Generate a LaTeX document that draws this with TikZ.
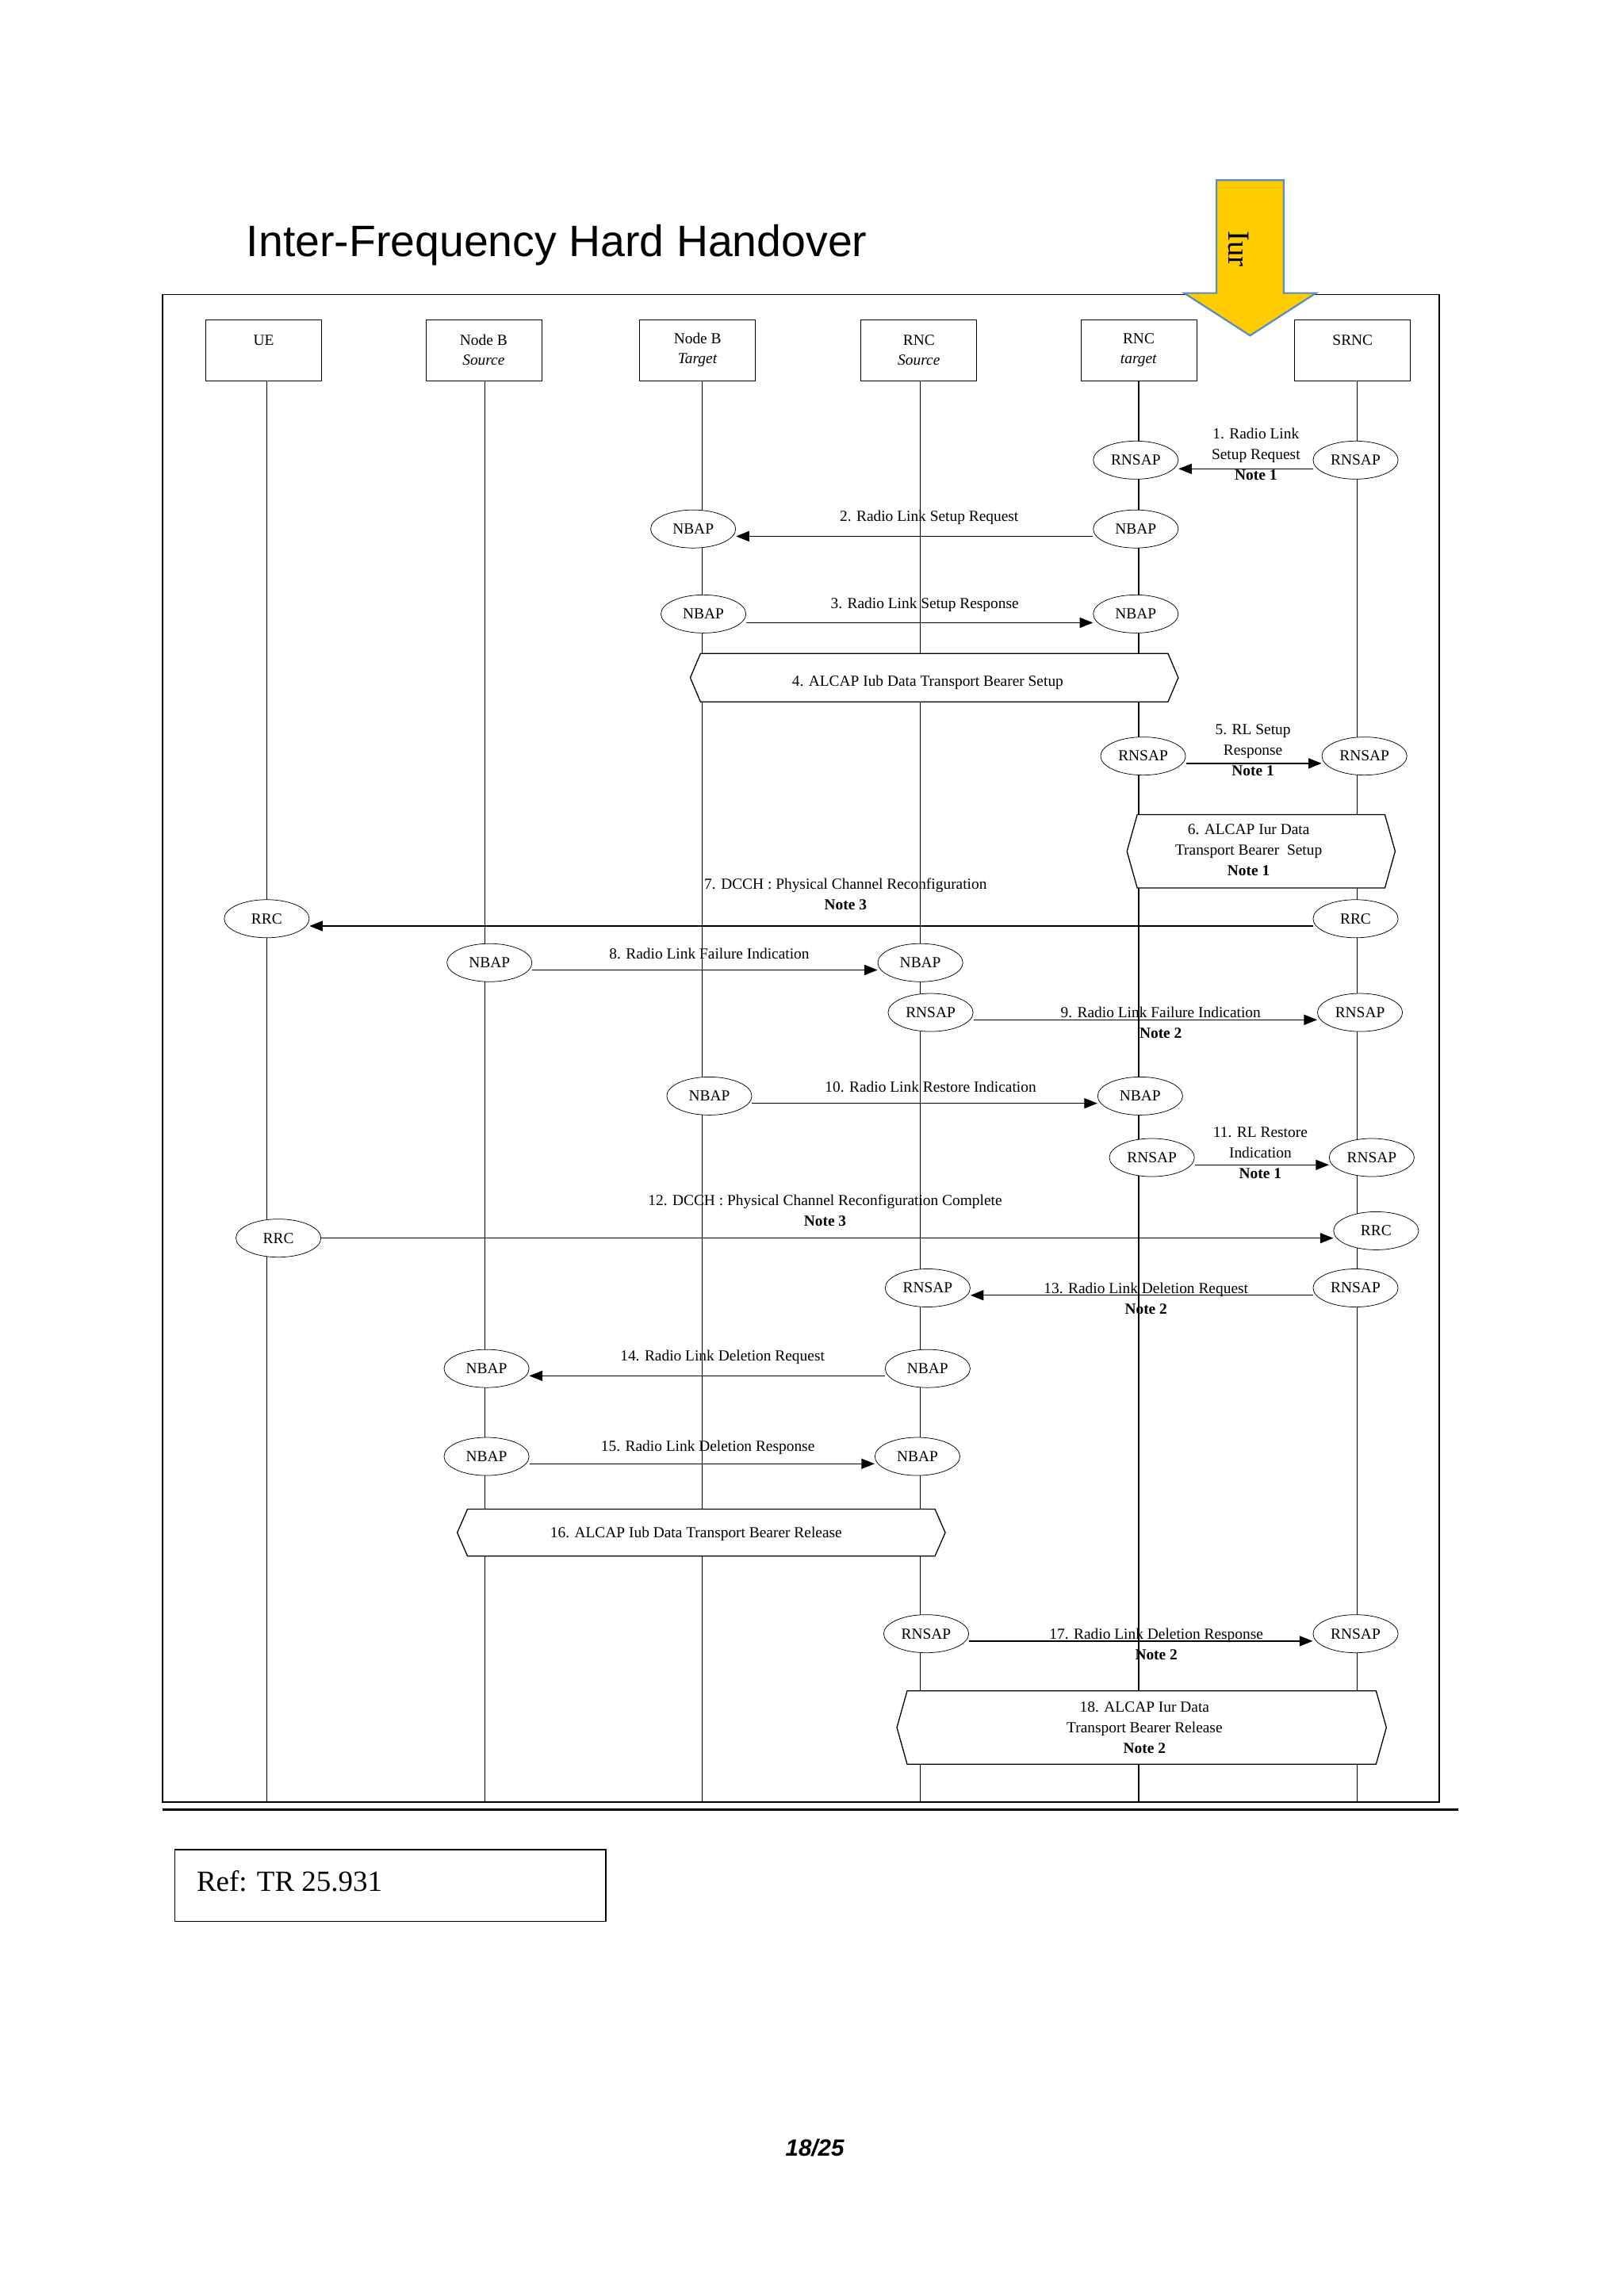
\documentclass[tikz,border=0pt]{standalone}
\usepackage{fontspec}
\setmainfont{Liberation Serif}
\newfontfamily\arialf{Liberation Sans}
\usetikzlibrary{shapes.geometric,arrows.meta}
\begin{document}
\begin{tikzpicture}[x=1pt,y=-1pt,
  proto/.style={ellipse,draw,fill=white,minimum width=58pt,minimum height=26pt,inner sep=0pt,font=\fontsize{10.5}{12}\selectfont},
  lbl/.style={font=\fontsize{10.5}{14}\selectfont,align=center,inner sep=0pt},
  ent/.style={draw,minimum width=79pt,minimum height=42pt,inner sep=0pt,font=\fontsize{10.5}{13.5}\selectfont,align=center},
  msg/.style={-{Triangle[length=9pt,width=7pt]},line width=0.8pt},
  life/.style={line width=0.6pt}]
\useasboundingbox (0,0) rectangle (1108,1567);
\fill[white] (0,0) rectangle (1108,1567);
% title
\node[anchor=base west,inner sep=0pt,font=\arialf\fontsize{30}{34}\selectfont] (title) at (168,175) {Inter-Frequency Hard Handover};
% frame
\draw[line width=0.8pt] (111,201) rectangle (982,1230);
\draw[line width=1.4pt] (111,1235) -- (995,1235);
% lifelines
\foreach \n/\x in {ue/182,nbs/331,nbt/479,rncs/628,rnct/777,srnc/926}{
  \coordinate (\n top) at (\x,260); \coordinate (\n bot) at (\x,1230);
  \draw[life] (\n top) -- (\n bot);}
% entity boxes
\node[ent,fill=white] (UE) at (180,239) {UE\\\phantom{x}};
\node[ent,fill=white] (NBS) at (330,239) {Node B\\\textit{Source}};
\node[ent,fill=white] (NBT) at (476,239) {Node B\\\textit{Target}};
\node[ent,fill=white] (RNCS) at (627,239) {RNC\\\textit{Source}};
\node[ent,fill=white] (RNCT) at (777,239) {RNC\\\textit{target}};
\node[ent,fill=white] (SRNC) at (923,239) {SRNC\\\phantom{x}};
% Iur arrow
\draw[fill={rgb,255:red,255;green,204;blue,0},draw={rgb,255:red,91;green,139;blue,197},line width=1.2pt]
  (830,123) -- (876,123) -- (876,200) -- (898,200) -- (853,229) -- (808,200) -- (830,200) -- cycle;
\node[rotate=-90,font=\fontsize{21}{24}\selectfont,inner sep=0pt] (iur) at (845,170) {Iur};
% hexagons
\newcommand{\hexa}[5]{% x1 x2 y1 y2 name
  \draw[fill=white,line width=0.7pt] (#1+7,#3) -- (#2-7,#3) -- (#2,{(#3+#4)/2}) -- (#2-7,#4) -- (#1+7,#4) -- (#1,{(#3+#4)/2}) -- cycle;
  \coordinate (#5) at ({(#1+#2)/2},{(#3+#4)/2});}
\hexa{471}{804}{446}{479}{h4}
\node[lbl] at (633,466) {4. ALCAP Iub Data Transport Bearer Setup};
\hexa{769}{952}{556}{606}{h6}
\node[lbl] at (852,580) {6. ALCAP Iur Data\\Transport Bearer\ \ Setup\\\textbf{Note 1}};
\hexa{312}{645}{1030}{1062}{h16}
\node[lbl] at (475,1047) {16. ALCAP Iub Data Transport Bearer Release};
\hexa{612}{946}{1154}{1204}{h18}
\node[lbl] at (781,1179) {18. ALCAP Iur Data\\Transport Bearer Release\\\textbf{Note 2}};
% 1
\node[proto] (a1) at (775,314) {RNSAP}; \node[proto] (b1) at (925,314) {RNSAP};
\draw[msg] (b1.west |- 0,320) -- (a1.east |- 0,320);
\node[lbl] at (857,310) {1. Radio Link\\Setup Request\\\textbf{Note 1}};
% 2
\node[proto] (a2) at (473,361) {NBAP}; \node[proto] (b2) at (775,361) {NBAP};
\draw[msg] (b2.west |- 0,366) -- (a2.east |- 0,366);
\node[lbl] at (634,353) {2. Radio Link Setup Request};
% 3
\node[proto] (a3) at (480,419) {NBAP}; \node[proto] (b3) at (775,419) {NBAP};
\draw[msg] (a3.east |- 0,425) -- (b3.west |- 0,425);
\node[lbl] at (631,413) {3. Radio Link Setup Response};
% 5
\node[proto] (a5) at (780,516) {RNSAP}; \node[proto] (b5) at (931,516) {RNSAP};
\draw[msg] (a5.east |- 0,521) -- (b5.west |- 0,521);
\node[lbl] at (855,512) {5. RL Setup\\Response\\\textbf{Note 1}};
% 7
\node[proto] (a7) at (182,627) {RRC}; \node[proto] (b7) at (925,627) {RRC};
\draw[msg] (b7.west |- 0,632) -- (a7.east |- 0,632);
\node[lbl] at (577,610) {7. DCCH : Physical Channel Reconfiguration\\\textbf{Note 3}};
% 8
\node[proto] (a8) at (334,657) {NBAP}; \node[proto] (b8) at (628,657) {NBAP};
\draw[msg] (a8.east |- 0,662) -- (b8.west |- 0,662);
\node[lbl] at (484,651) {8. Radio Link Failure Indication};
% 9
\node[proto] (a9) at (635,691) {RNSAP}; \node[proto] (b9) at (928,691) {RNSAP};
\draw[msg] (a9.east |- 0,696) -- (b9.west |- 0,696);
\node[lbl] at (792,698) {9. Radio Link Failure Indication\\\textbf{Note 2}};
% 10
\node[proto] (a10) at (484,748) {NBAP}; \node[proto] (b10) at (778,748) {NBAP};
\draw[msg] (a10.east |- 0,753) -- (b10.west |- 0,753);
\node[lbl] at (635,742) {10. Radio Link Restore Indication};
% 11
\node[proto] (a11) at (786,790) {RNSAP}; \node[proto] (b11) at (936,790) {RNSAP};
\draw[msg] (a11.east |- 0,795) -- (b11.west |- 0,795);
\node[lbl] at (860,787) {11. RL Restore\\Indication\\\textbf{Note 1}};
% 12
\node[proto] (a12) at (190,845) {RRC}; \node[proto] (b12) at (939,840) {RRC};
\draw[msg] (a12.east |- 0,845) -- (b12.west |- 0,845);
\node[lbl] at (563,826) {12. DCCH : Physical Channel Reconfiguration Complete\\\textbf{Note 3}};
% 13
\node[proto] (a13) at (633,879) {RNSAP}; \node[proto] (b13) at (925,879) {RNSAP};
\draw[msg] (b13.west |- 0,884) -- (a13.east |- 0,884);
\node[lbl] at (782,886) {13. Radio Link Deletion Request\\\textbf{Note 2}};
% 14
\node[proto] (a14) at (332,934) {NBAP}; \node[proto] (b14) at (633,934) {NBAP};
\draw[msg] (b14.west |- 0,939) -- (a14.east |- 0,939);
\node[lbl] at (493,926) {14. Radio Link Deletion Request};
% 15
\node[proto] (a15) at (332,994) {NBAP}; \node[proto] (b15) at (626,994) {NBAP};
\draw[msg] (a15.east |- 0,999) -- (b15.west |- 0,999);
\node[lbl] at (483,988) {15. Radio Link Deletion Response};
% 17
\node[proto] (a17) at (632,1115) {RNSAP}; \node[proto] (b17) at (925,1115) {RNSAP};
\draw[msg] (a17.east |- 0,1120) -- (b17.west |- 0,1120);
\node[lbl] at (789,1122) {17. Radio Link Deletion Response\\\textbf{Note 2}};
% ref box
\node[draw,line width=0.8pt,minimum width=294pt,minimum height=49pt,anchor=north west,inner sep=0pt] (refbox) at (119,1262) {};
\node[anchor=west,inner sep=0pt,font=\fontsize{20}{24}\selectfont] (ref) at (134,1284) {Ref: TR 25.931};
\node[font=\arialf\bfseries\itshape\fontsize{16}{18}\selectfont,inner sep=0pt] (page) at (556,1466) {18/25};
\end{tikzpicture}
\end{document}
